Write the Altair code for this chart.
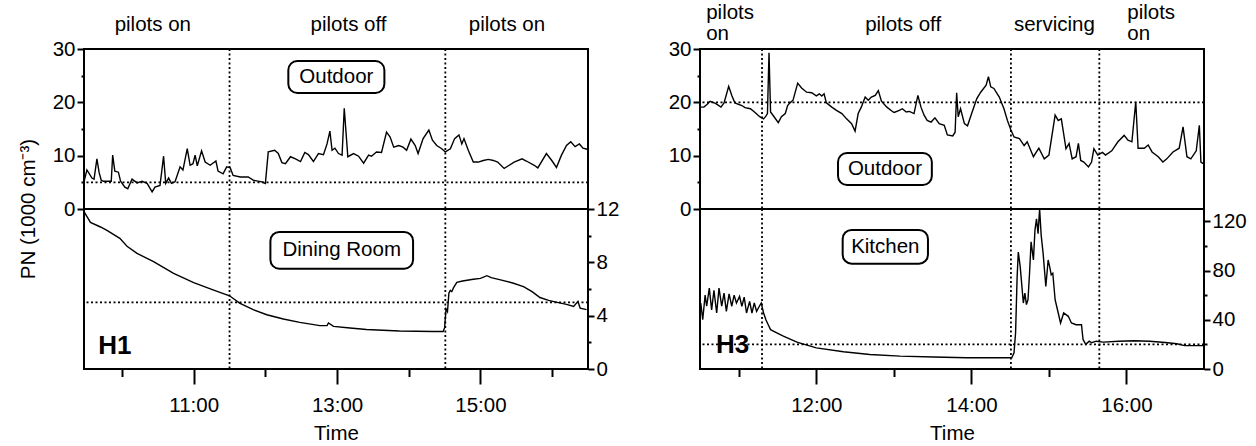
import altair as alt
import pandas as pd

FONT = "Liberation Sans"
FS = 20.5

# ---------------- H1 (left panel) ----------------
h1_out_time = [9.47, 9.51, 9.53, 9.58, 9.61, 9.65, 9.68, 9.71, 9.74, 9.85, 9.87, 9.90, 9.95, 9.98,
               10.04, 10.08, 10.14, 10.21, 10.28, 10.35, 10.42, 10.46, 10.53, 10.58, 10.61, 10.65,
               10.69, 10.74, 10.81, 10.85, 10.91, 10.95, 10.99, 11.02, 11.05, 11.11, 11.16, 11.23,
               11.31, 11.34, 11.41, 11.46, 11.51, 11.55, 11.65, 11.76, 11.83, 11.95, 12.00, 12.04,
               12.13, 12.18, 12.23, 12.28, 12.35, 12.42, 12.49, 12.55, 12.60, 12.67, 12.74, 12.81,
               12.86, 12.90, 12.93, 12.97, 13.02, 13.07, 13.10, 13.15, 13.23, 13.30, 13.37, 13.44,
               13.48, 13.55, 13.62, 13.69, 13.74, 13.79, 13.86, 13.92, 13.97, 14.03, 14.09, 14.13,
               14.20, 14.28, 14.33, 14.39, 14.46, 14.51, 14.58, 14.64, 14.70, 14.74, 14.77, 14.83,
               14.90, 14.97, 15.04, 15.11, 15.18, 15.24, 15.33, 15.47, 15.58, 15.64, 15.75, 15.80,
               15.92, 16.00, 16.06, 16.13, 16.20, 16.26, 16.32, 16.38, 16.43, 16.49]
h1_out_pn = [5.1, 7.3, 6.9, 5.8, 5.6, 9.4, 6.9, 5.4, 5.2, 5.2, 10.1, 7.1, 6.9, 5.2,
             4.1, 3.8, 5.6, 4.9, 5.2, 4.8, 3.2, 4.1, 4.4, 9.9, 4.8, 5.8,
             4.8, 5.1, 7.9, 7.3, 11.3, 8.2, 8.5, 10.1, 8.1, 10.9, 8.8, 8.2,
             9.0, 7.1, 6.6, 7.9, 7.7, 6.3, 6.0, 6.0, 5.4, 5.1, 4.8, 10.7,
             11.0, 10.4, 8.7, 8.5, 9.8, 9.4, 8.9, 10.6, 10.2, 8.9, 10.4, 10.2,
             12.2, 14.6, 11.0, 11.4, 10.4, 10.1, 18.9, 9.8, 10.4, 9.9, 8.6, 10.1,
             9.9, 10.7, 10.6, 14.4, 13.5, 11.6, 11.9, 11.6, 11.0, 13.1, 11.9, 10.4,
             13.2, 14.8, 12.9, 11.9, 11.3, 10.7, 11.3, 13.2, 13.9, 12.2, 13.2, 11.0,
             8.8, 8.8, 9.1, 9.3, 9.1, 8.8, 7.6, 8.8, 9.4, 9.0, 8.2, 7.7,
             10.4, 9.0, 7.8, 10.1, 11.9, 12.6, 11.7, 12.2, 11.4, 11.2]

h1_in_time = [9.47, 9.56, 9.70, 9.79, 9.97, 10.07, 10.21, 10.44, 10.72, 11.00, 11.27, 11.50,
              11.64, 11.83, 12.02, 12.25, 12.48, 12.76, 12.86, 12.88, 12.95, 13.18, 13.41, 13.87,
              14.34, 14.48, 14.50, 14.52, 14.54, 14.56, 14.58, 14.60, 14.625, 14.67, 14.75, 14.90,
              15.00, 15.09, 15.15, 15.28, 15.45, 15.60, 15.72, 15.83, 15.95, 16.07, 16.20, 16.30,
              16.36, 16.39, 16.48]
h1_in_pn = [11.8, 11.0, 10.65, 10.4, 9.8, 9.2, 8.67, 8.05, 7.17, 6.48, 5.94, 5.49,
            4.94, 4.45, 4.07, 3.75, 3.50, 3.25, 3.25, 3.45, 3.2, 3.08, 2.96, 2.85,
            2.81, 2.81, 3.1, 4.5, 4.3, 5.7, 5.9, 5.8, 6.1, 6.5, 6.6, 6.73,
            6.8, 7.0, 6.85, 6.68, 6.45, 6.18, 5.8, 5.36, 5.15, 5.0, 4.85, 4.69,
            5.07, 4.57, 4.45]

h1_switch_times = [11.50, 14.51]
h1_x_domain = [9.47, 16.5]
h1_out_ref = 5
h1_in_ref = 5
h1_phase_labels = ["pilots on", "pilots off", "pilots on"]
h1_phase_times = [10.43, 13.16, 15.37]

# ---------------- H3 (right panel) ----------------
h3_out_time = [10.51, 10.55, 10.59, 10.63, 10.70, 10.77, 10.81, 10.87, 10.91, 10.95, 11.04, 11.08,
               11.15, 11.21, 11.27, 11.32, 11.35, 11.37, 11.39, 11.41, 11.455, 11.51, 11.55, 11.60,
               11.63, 11.66, 11.70, 11.76, 11.81, 11.875, 11.94, 12.00, 12.04, 12.07, 12.10, 12.13,
               12.20, 12.26, 12.33, 12.39, 12.455, 12.50, 12.54, 12.58, 12.63, 12.67, 12.71, 12.76,
               12.80, 12.84, 12.91, 12.99, 13.005, 13.07, 13.11, 13.16, 13.20, 13.26, 13.31, 13.35,
               13.39, 13.43, 13.48, 13.53, 13.585, 13.65, 13.69, 13.76, 13.79, 13.81, 13.83, 13.86,
               13.91, 13.95, 14.01, 14.07, 14.12, 14.19, 14.22, 14.25, 14.29, 14.36, 14.42, 14.465,
               14.51, 14.55, 14.62, 14.68, 14.72, 14.80, 14.87, 14.94, 15.00, 15.08, 15.12, 15.16,
               15.22, 15.26, 15.30, 15.35, 15.38, 15.41, 15.45, 15.51, 15.55, 15.58, 15.63, 15.69,
               15.73, 15.81, 15.89, 15.97, 16.02, 16.07, 16.12, 16.15, 16.23, 16.28, 16.33, 16.41,
               16.47, 16.52, 16.60, 16.68, 16.73, 16.78, 16.83, 16.90, 16.94, 16.96, 17.0]
h3_out_pn = [19.1, 19.1, 19.6, 20.2, 19.8, 19.1, 19.9, 23.0, 21.3, 19.9, 19.4, 19.0,
             18.8, 18.1, 17.3, 16.9, 17.4, 17.9, 29.3, 18.2, 17.3, 16.2, 17.3, 17.9,
             19.4, 19.9, 20.4, 23.6, 22.7, 21.9, 21.8, 21.2, 21.6, 21.2, 21.6, 19.9,
             19.1, 18.5, 17.9, 16.9, 16.0, 14.6, 17.9, 19.1, 21.0, 20.4, 21.0, 21.3,
             22.2, 20.2, 19.1, 18.2, 18.1, 18.5, 18.8, 18.2, 18.3, 17.9, 21.3, 19.1,
             17.6, 16.6, 16.3, 17.1, 16.0, 15.7, 13.9, 13.7, 14.4, 21.8, 17.3, 18.8,
             16.0, 15.6, 18.2, 20.7, 21.9, 23.2, 24.8, 22.9, 22.6, 21.0, 18.8, 16.6,
             14.8, 13.5, 13.2, 11.9, 12.6, 9.8, 11.4, 9.4, 10.1, 17.6, 16.6, 16.9,
             11.3, 12.3, 9.4, 9.8, 12.3, 9.1, 8.8, 7.9, 8.8, 11.3, 10.1, 10.6,
             10.1, 10.9, 12.6, 13.8, 12.9, 12.6, 20.1, 11.4, 11.4, 12.0, 10.7, 9.8,
             8.8, 9.4, 10.7, 11.4, 15.4, 9.8, 9.4, 10.9, 15.7, 8.8, 8.4]

h3_in_time = [10.51, 10.535, 10.566, 10.586, 10.62, 10.65, 10.68, 10.715, 10.745, 10.78, 10.81,
              10.84, 10.875, 10.91, 10.94, 10.97, 11.01, 11.04, 11.07, 11.10, 11.14, 11.17, 11.20,
              11.23, 11.265, 11.29, 11.32, 11.35, 11.38, 11.41, 11.49, 11.575, 11.75, 12.00, 12.35,
              12.69, 13.08, 13.51, 13.94, 14.52, 14.55, 14.57, 14.59, 14.605, 14.63, 14.67, 14.69,
              14.71, 14.73, 14.75, 14.77, 14.80, 14.82, 14.84, 14.86, 14.88, 14.90, 14.925, 14.96,
              14.99, 15.01, 15.03, 15.05, 15.08, 15.12, 15.15, 15.19, 15.25, 15.29, 15.35, 15.42,
              15.44, 15.475, 15.52, 15.55, 15.61, 15.70, 15.90, 16.10, 16.30, 16.50, 16.65, 16.75,
              16.90, 17.0]
h3_in_pn = [53.6, 40, 60, 51, 65.7, 48, 64, 45.5, 65.7, 51, 61.7,
            46.8, 61, 51, 60, 53.6, 59, 51, 58.4, 45.5, 55, 45.5, 53.6,
            46.8, 51, 53.6, 45.5, 40, 36, 32, 29.4, 26.7, 21.8, 17.2, 14,
            11.8, 10.5, 9.7, 9.2, 9.2, 13.2, 29.4, 75, 95, 83, 53.6, 61.7,
            52.3, 56.3, 77.8, 103.4, 88.6, 112.8, 122, 110, 130, 108.8, 94, 67,
            88.6, 83, 76.5, 77.8, 56.3, 45.5, 37.4, 45.5, 42.8, 37.4, 36, 36,
            24, 20, 22.6, 21.3, 22.6, 21.8, 22.5, 23, 22.5, 21.5, 20.5, 19,
            19, 19]

h3_switch_times = [11.30, 14.51, 15.65]
h3_x_domain = [10.5, 17.0]
h3_out_ref = 20
h3_in_ref = 20
h3_phase_single_labels = ["pilots off", "servicing"]
h3_phase_single_times = [13.12, 15.07]
h3_phase_double_labels = ["pilots\non", "pilots\non"]
h3_phase_double_times = [10.58, 16.01]

Y_TITLE = "PN (1000 cm\u207b\u00b3)"


def y_axis(orient, values, major_test, major_len, minor_len):
    return alt.Axis(
        orient=orient, values=values,
        labelExpr=f"({major_test}) ? datum.label : ''",
        tickSize={"condition": {"test": major_test, "value": major_len}, "value": minor_len},
        tickWidth=2, tickColor="black", domain=False, grid=False, title=None,
        labelFont=FONT, labelFontSize=FS, labelColor="black", labelPadding=2,
        labelOverlap=False,
    )


def x_axis(values, major_test):
    return alt.Axis(
        orient="bottom", values=values,
        labelExpr=f"({major_test}) ? datum.value + ':00' : ''",
        tickSize={"condition": {"test": major_test, "value": 15}, "value": 7.5},
        tickWidth=2, tickColor="black", domain=False, grid=False,
        labelFont=FONT, labelFontSize=FS, labelColor="black", labelPadding=11,
        labelOverlap=False, labelFlush=False,
        title="Time", titleFont=FONT, titleFontSize=FS, titleFontWeight="normal",
        titleColor="black", titlePadding=8,
    )


def dotted_rule():
    return dict(color="black", strokeWidth=1.8, strokeDash=[2, 2.5])


def panel(out_t, out_v, in_t, in_v, xdom, switches, out_ref, in_ref, in_dom,
          y_up_axis, y_low_axis, xax, out_box, in_box, house, phases_single,
          phases_double, show_title):
    X_up = alt.X("t:Q", scale=alt.Scale(domain=xdom, nice=False, zero=False), axis=None)
    Y_up = alt.Y("v:Q", scale=alt.Scale(domain=[0, 30], nice=False, zero=False), axis=y_up_axis)
    X_low = alt.X("t:Q", scale=alt.Scale(domain=xdom, nice=False, zero=False), axis=xax)
    Y_low = alt.Y("v:Q", scale=alt.Scale(domain=in_dom, nice=False, zero=False), axis=y_low_axis)

    def layers(t, v, X, Y, ref, box):
        df = pd.DataFrame({"t": t, "v": v})
        out = [
            alt.Chart(pd.DataFrame({"v": [ref]})).mark_rule(**dotted_rule()).encode(y=Y),
            alt.Chart(pd.DataFrame({"t": switches})).mark_rule(**dotted_rule()).encode(x=X),
            alt.Chart(df).mark_line(color="black", strokeWidth=1.4).encode(x=X, y=Y),
            alt.Chart(pd.DataFrame({"t": [box[0]], "t2": [box[1]], "v": [box[2]], "v2": [box[3]]}))
            .mark_rect(fill="white", stroke="black", strokeWidth=2, cornerRadius=9)
            .encode(x=X, x2="t2", y=Y, y2="v2"),
            alt.Chart(pd.DataFrame({"t": [(box[0] + box[1]) / 2], "v": [(box[2] + box[3]) / 2],
                                    "label": [box[4]]}))
            .mark_text(font=FONT, fontSize=FS, baseline="middle", align="center", color="black")
            .encode(x=X, y=Y, text="label"),
        ]
        return out

    up_layers = layers(out_t, out_v, X_up, Y_up, out_ref, out_box)
    if phases_single:
        up_layers.append(
            alt.Chart(pd.DataFrame({"t": phases_single[0], "label": phases_single[1]}))
            .mark_text(font=FONT, fontSize=FS, align="center", baseline="alphabetic", color="black")
            .encode(x=X_up, y=alt.value(-18), text="label"))
    if phases_double:
        up_layers.append(
            alt.Chart(pd.DataFrame({"t": phases_double[0], "label": phases_double[1]}))
            .mark_text(font=FONT, fontSize=FS, align="left", baseline="alphabetic",
                       lineBreak="\n", lineHeight=20.5, color="black")
            .encode(x=X_up, y=alt.value(-30), text="label"))
    if show_title:
        up_layers.append(
            alt.Chart(pd.DataFrame({"a": [0]}))
            .mark_text(font=FONT, fontSize=FS, angle=270, align="center", baseline="alphabetic",
                       color="black")
            .encode(x=alt.value(-49), y=alt.value(160), text=alt.value(Y_TITLE)))
    upper = alt.layer(*up_layers).properties(width=504, height=160)

    low_layers = layers(in_t, in_v, X_low, Y_low, in_ref, in_box)
    low_layers.append(
        alt.Chart(pd.DataFrame({"t": [house[0]], "v": [house[1]], "label": [house[2]]}))
        .mark_text(font=FONT, fontSize=26, fontWeight="bold", align="center",
                   baseline="alphabetic", color="black")
        .encode(x=X_low, y=Y_low, text="label"))
    lower = alt.layer(*low_layers).properties(width=504, height=160)

    return upper, lower


left_up, left_low = panel(
    h1_out_time, h1_out_pn, h1_in_time, h1_in_pn, h1_x_domain, h1_switch_times,
    h1_out_ref, h1_in_ref, [0, 12],
    y_axis("left", [0, 5, 10, 15, 20, 25, 30], "datum.value % 10 === 0", 7, 3),
    y_axis("right", [0, 2, 4, 6, 8, 10, 12], "datum.value % 4 === 0", 6, 3),
    x_axis([10, 11, 12, 13, 14, 15, 16], "datum.value % 2 === 1"),
    (12.32, 13.66, 21.75, 27.75, "Outdoor"),
    (12.07, 14.06, 7.52, 10.28, "Dining Room"),
    (9.90, 1.12, "H1"),
    (h1_phase_times, h1_phase_labels), None, True)

right_up, right_low = panel(
    h3_out_time, h3_out_pn, h3_in_time, h3_in_pn, h3_x_domain, h3_switch_times,
    h3_out_ref, h3_in_ref, [0, 130],
    y_axis("left", [0, 5, 10, 15, 20, 25, 30], "datum.value % 10 === 0", 7, 3),
    y_axis("right", [0, 20, 40, 60, 80, 100, 120], "datum.value % 40 === 0", 6, 3),
    x_axis([11, 12, 13, 14, 15, 16], "datum.value % 2 === 0"),
    (12.28, 13.49, 4.5, 10.5, "Outdoor"),
    (12.34, 13.44, 85.6, 113.0, "Kitchen"),
    (10.92, 12.9, "H3"),
    (h3_phase_single_times, h3_phase_single_labels),
    (h3_phase_double_times, h3_phase_double_labels), False)

chart = (
    alt.concat(left_up, right_up, left_low, right_low, columns=2,
               spacing={"row": 0, "column": 112}, bounds="flush")
    .resolve_scale(x="independent", y="independent")
    .properties(padding={"left": 18, "top": 2, "right": 5, "bottom": 5}, background="white")
    .configure_view(stroke="black", strokeWidth=2)
)

chart.save("out.html", embed_options={"renderer": "svg", "actions": False})
